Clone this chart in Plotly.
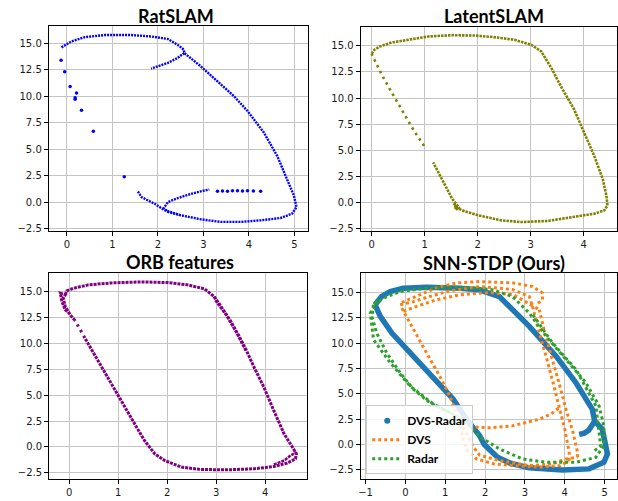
import plotly.graph_objects as go

# ---------------- RatSLAM (blue) ----------------
rat_main_x = [-0.12, 0.10, 0.39, 0.83, 1.42, 1.85, 2.22, 2.43, 2.57, 2.58, 2.94, 3.30, 3.67, 3.97, 4.33, 4.62, 4.84, 4.99, 5.04, 5.05,
              4.95, 4.70, 4.26, 3.82, 3.39, 2.95, 2.51, 2.22, 2.13, 2.22, 2.44, 2.73, 3.02, 3.13]
rat_main_y = [14.59, 15.15, 15.56, 15.75, 15.75, 15.62, 15.38, 14.84, 14.38, 14.06, 12.81, 11.41, 10.00, 8.59, 6.56, 4.38, 2.19, 0.63, -0.31, -0.47,
              -1.09, -1.50, -1.72, -1.87, -1.87, -1.63, -1.25, -0.93, -0.56, 0.00, 0.38, 0.78, 1.09, 1.19]
rat_curl_x = [2.58, 2.43, 2.22, 2.00, 1.85]
rat_curl_y = [14.06, 13.59, 13.13, 12.81, 12.59]
rat_low_x = [1.56, 1.58, 1.64, 1.93, 2.14, 2.51]
rat_low_y = [1.00, 0.85, 0.47, -0.16, -0.75, -1.25]
rat_pts_x = [-0.13, -0.05, 0.07, 0.21, 0.18, 0.18, 0.32, 0.58, 1.26, 3.31, 3.42, 3.53, 3.64, 3.75, 3.86, 3.97, 4.10, 4.26]
rat_pts_y = [13.37, 12.28, 10.90, 10.28, 9.84, 9.69, 8.66, 6.69, 2.40, 1.03, 1.05, 1.03, 1.06, 1.06, 1.05, 1.06, 1.04, 1.03]

# ---------------- LatentSLAM (olive) ----------------
lat_main_x = [0.00, 0.05, 0.16, 0.38, 0.69, 1.07, 1.50, 1.94, 2.32, 2.70, 3.01, 3.20, 3.39, 3.57, 3.82, 4.01, 4.20, 4.36, 4.43, 4.45,
              4.39, 4.20, 3.82, 3.32, 2.82, 2.45, 2.07, 1.76, 1.57, 1.62, 1.55, 1.66, 1.52, 1.44, 1.32, 1.16]
lat_main_y = [14.24, 14.62, 14.94, 15.32, 15.57, 15.89, 16.01, 15.98, 15.82, 15.57, 15.10, 14.46, 12.88, 11.13, 8.91, 6.69, 4.47, 2.25, 0.67, -0.28,
              -0.76, -1.07, -1.39, -1.77, -1.87, -1.71, -1.30, -0.85, -0.44, -0.70, -0.10, -0.55, 0.35, 1.14, 2.25, 3.84]
lat_sparse_x = [0.99, 0.82, 0.69, 0.56, 0.44, 0.31, 0.19, 0.09, 0.02, 0.00]
lat_sparse_y = [5.42, 6.69, 7.80, 8.91, 10.02, 11.13, 12.24, 13.19, 13.99, 14.24]

# ---------------- ORB features (purple) ----------------
orb_main_x = [-0.08, -0.05, 0.09, 0.39, 0.87, 1.48, 2.02, 2.42, 2.76, 2.96, 3.10, 3.30, 3.47, 3.61, 3.78, 3.98, 4.18, 4.39, 4.56, 4.64,
              4.62, 4.45, 4.18, 3.78, 3.24, 2.69, 2.29, 1.95, 1.75, 1.54, 1.34, 1.07, 0.80, 0.53, 0.32]
orb_main_y = [14.68, 15.06, 15.32, 15.64, 15.83, 15.93, 15.86, 15.64, 15.26, 14.52, 13.56, 12.12, 10.68, 9.40, 7.64, 5.72, 3.48, 1.24, -0.04, -0.68,
              -1.15, -1.57, -1.89, -2.11, -2.21, -2.18, -1.95, -1.31, -0.68, 0.60, 2.20, 4.44, 6.68, 8.92, 10.52]
orb_sparse_x = [0.32, 0.22, 0.12]
orb_sparse_y = [10.52, 11.40, 12.20]
orb_left_x = [0.12, 0.02, -0.08, -0.12, -0.08, -0.18, -0.15, -0.08, 0.00]
orb_left_y = [12.20, 12.76, 13.56, 14.36, 14.68, 14.84, 14.04, 13.24, 12.90]
orb_inner_x = [2.96, 3.00, 3.20, 3.40, 3.61]
orb_inner_y = [14.52, 14.04, 12.76, 11.16, 9.24]
orb_loop_x = [4.18, 4.39, 4.52, 4.64]
orb_loop_y = [-1.70, -1.31, -0.83, -0.51]

# ---------------- SNN-STDP (Ours) ----------------
dvsr_x = [-0.76, -0.63, -0.34, 0.12, 0.70, 1.20, 1.53, 1.86, 1.98, 2.15, 2.31, 2.64, 3.11, 3.94, 4.61, 4.98, 5.07, 5.00, 4.94,
          4.75, 4.69, 4.28, 3.78, 3.11, 2.69, 2.36, 1.86, 1.36, 0.53, -0.05, -0.38, -0.60, -0.76]
dvsr_y = [13.79, 12.64, 11.00, 9.05, 6.76, 4.47, 2.50, 0.90, 0.00, -0.60, -1.26, -1.85, -2.30, -2.50, -2.40, -1.75, -0.93, 0.40, 1.52,
          2.30, 3.49, 6.10, 8.72, 11.66, 13.30, 14.60, 15.26, 15.43, 15.52, 15.43, 15.10, 14.60, 13.79]
dvsr_hook_x = [4.75, 4.70, 4.60, 4.48, 4.36]
dvsr_hook_y = [2.30, 1.90, 1.40, 1.10, 1.00]

dvs_diag_x = [-0.09, 0.20, 0.53, 0.86, 1.11, 1.28, 1.36, 1.45, 1.53, 1.78, 2.23, 2.73, 3.39, 3.89, 4.11]
dvs_diag_y = [13.46, 11.34, 9.05, 6.76, 4.80, 3.16, 2.18, 0.54, -0.44, -1.42, -1.91, -2.08, -2.24, -2.08, -1.59]
dvs_bot2_x = [1.36, 1.55, 1.70, 1.86, 2.36, 3.11, 3.69, 4.03, 4.32]
dvs_bot2_y = [2.18, 1.00, -0.20, -1.03, -1.59, -2.08, -1.91, -1.42, -1.26]
dvs_v1_x = [4.11, 4.11, 4.00, 3.86, 3.70, 3.53, 3.36, 3.19]
dvs_v1_y = [-1.59, -0.77, 1.50, 3.81, 6.20, 8.72, 11.00, 13.63]
dvs_v2_x = [4.32, 4.32, 4.20, 4.03, 3.86, 3.69, 3.50, 3.36]
dvs_v2_y = [-1.26, -0.77, 1.30, 3.49, 6.00, 8.39, 11.00, 13.30]
dvs_t1_x = [-0.09, 0.30, 0.80, 1.30, 1.86, 2.69, 3.19, 3.44, 3.44, 3.28]
dvs_t1_y = [14.02, 14.70, 15.50, 15.95, 16.08, 15.95, 15.60, 14.95, 14.30, 13.79]
dvs_t2_x = [-0.13, 0.20, 0.60, 1.10, 1.86, 2.69, 3.11, 3.19]
dvs_t2_y = [13.79, 14.10, 14.60, 15.15, 15.59, 15.30, 14.60, 13.63]
dvs_t3_x = [-0.05, 0.28, 0.78, 1.36, 2.11, 2.70, 3.36]
dvs_t3_y = [13.14, 13.63, 14.28, 14.77, 15.00, 14.80, 13.30]
dvs_mid_x = [1.36, 1.70, 2.11, 2.69, 3.36, 3.65, 3.86]
dvs_mid_y = [2.50, 1.75, 1.65, 1.85, 2.50, 3.00, 3.65]

radar_x = [-0.80, -0.84, -0.72, -0.47, -0.13, 0.20, 0.61, 1.11, 1.53, 1.86, 2.36, 2.94, 3.53, 4.28, 4.78, 4.98, 4.98, 4.86,
           4.53, 4.03, 3.53, 3.11, 2.69, 2.20, 1.86, 1.36, 0.53, -0.13, -0.55, -0.80]
radar_y = [13.79, 12.64, 11.00, 9.05, 7.08, 5.45, 4.14, 3.16, 2.18, 0.80, -0.44, -1.42, -1.75, -1.75, -1.26, -0.11, 1.85, 3.81,
           6.10, 8.39, 10.68, 12.97, 14.60, 15.26, 15.43, 15.52, 15.43, 15.10, 14.44, 13.79]
radar2l_x = [-0.70, -0.88, -0.80, -0.38, 0.12, 0.70, 1.20]
radar2l_y = [14.20, 12.97, 10.35, 8.06, 5.77, 4.00, 3.00]
radar2r_x = [3.20, 3.69, 4.28, 4.78, 4.90, 4.75]
radar2r_y = [12.80, 10.03, 7.41, 3.81, -0.11, -0.60]

# ---------------- text ----------------
titles = ["RatSLAM", "LatentSLAM", "ORB features", "SNN-STDP (Ours)"]
legend_names = ["DVS-Radar", "DVS", "Radar"]
y_tick_vals = [-2.5, 0.0, 2.5, 5.0, 7.5, 10.0, 12.5, 15.0]

fig = go.Figure()

def line(x, y, color, width, dash, ax, name=None, show=False, group=None):
    fig.add_trace(go.Scatter(x=x, y=y, mode="lines", line=dict(color=color, width=width, dash=dash),
                             xaxis="x" + ax, yaxis="y" + ax, name=name, showlegend=show, legendgroup=group))

def pts(x, y, color, size, ax):
    fig.add_trace(go.Scatter(x=x, y=y, mode="markers", marker=dict(color=color, size=size),
                             xaxis="x" + ax, yaxis="y" + ax, showlegend=False))

BLUE = "#0000ff"
line(rat_main_x, rat_main_y, BLUE, 2.4, "2px,1px", "")
line(rat_curl_x, rat_curl_y, BLUE, 2.4, "2px,1px", "")
line(rat_low_x, rat_low_y, BLUE, 2.4, "2px,1px", "")
pts(rat_pts_x, rat_pts_y, BLUE, 3.5, "")

OLIVE = "#808000"
line(lat_main_x, lat_main_y, OLIVE, 2.6, "2.5px,1px", "2")
line(lat_sparse_x, lat_sparse_y, OLIVE, 2.6, "2.5px,4px", "2")

PURPLE = "#800080"
line(orb_main_x, orb_main_y, PURPLE, 3, "3px,1px", "3")
line(orb_sparse_x, orb_sparse_y, PURPLE, 3, "2.5px,4px", "3")
line(orb_left_x, orb_left_y, PURPLE, 3, "3px,1px", "3")
line(orb_inner_x, orb_inner_y, PURPLE, 2.5, "3px,1px", "3")
line(orb_loop_x, orb_loop_y, PURPLE, 2.5, "3px,1px", "3")

C_DR, C_DVS, C_RAD = "#1f77b4", "#ff7f0e", "#2ca02c"
line(dvsr_x, dvsr_y, C_DR, 5.5, "solid", "4")
line(dvsr_hook_x, dvsr_hook_y, C_DR, 5.5, "solid", "4")
fig.add_trace(go.Scatter(x=[None], y=[None], mode="markers", marker=dict(color=C_DR, size=6),
                         xaxis="x4", yaxis="y4", name="<b>" + legend_names[0] + "</b>", showlegend=True))
first = True
for xs, ys in [(dvs_diag_x, dvs_diag_y), (dvs_bot2_x, dvs_bot2_y), (dvs_v1_x, dvs_v1_y), (dvs_v2_x, dvs_v2_y),
               (dvs_t1_x, dvs_t1_y), (dvs_t2_x, dvs_t2_y), (dvs_t3_x, dvs_t3_y), (dvs_mid_x, dvs_mid_y)]:
    line(xs, ys, C_DVS, 3, "3px,3px", "4", "<b>" + legend_names[1] + "</b>", first, "dvs")
    first = False
first = True
for xs, ys in [(radar_x, radar_y), (radar2l_x, radar2l_y), (radar2r_x, radar2r_y)]:
    line(xs, ys, C_RAD, 3, "3px,3px", "4", "<b>" + legend_names[2] + "</b>", first, "radar")
    first = False

W, H = 618, 501

axis_common = dict(showgrid=True, gridcolor="#c4c4c4", gridwidth=1, zeroline=False,
                   showline=True, linecolor="#000000", linewidth=1, mirror=True,
                   ticks="outside", ticklen=4, tickwidth=1, tickcolor="#000000",
                   tickfont=dict(family="DejaVu Sans", size=10, color="#1a1a1a"))

panels = [
    ((47, 307), (26, 232), [-0.40, 5.29], [-2.69, 16.62], ""),
    ((360.3, 618), (26.7, 232), [-0.21, 4.63], [-2.69, 16.84], "2"),
    ((47.3, 306.7), (274.3, 481.7), [-0.41, 4.86], [-3.08, 16.82], "3"),
    ((360.3, 618), (275, 482.3), [-1.125, 5.31], [-3.44, 16.89], "4"),
]
layout = dict(width=W, height=H, margin=dict(l=0, r=0, t=0, b=0), plot_bgcolor="white", paper_bgcolor="white",
              showlegend=True,
              legend=dict(x=366 / W, y=1 - 477 / H, xanchor="left", yanchor="bottom",
                          bgcolor="rgba(255,255,255,0.85)", bordercolor="#cccccc", borderwidth=1,
                          font=dict(family="Lato", size=12, color="#000000"), tracegroupgap=0,
                          itemwidth=30))
for (xd, yd, xr, yr, s) in panels:
    layout["xaxis" + s] = dict(axis_common, domain=[xd[0] / W, min(xd[1] / W, 1.0)], range=xr, dtick=1, tick0=0,
                               anchor="y" + s)
    layout["yaxis" + s] = dict(axis_common, domain=[1 - yd[1] / H, 1 - yd[0] / H], range=yr, tickvals=y_tick_vals,
                               tickformat=".1f", anchor="x" + s)

title_pos = [(175, 16), (494, 16), (179, 264), (494, 265)]
layout["annotations"] = [dict(text="<b>" + t + "</b>", x=tx / W, y=1 - ty / H, xref="paper", yref="paper",
                              xanchor="center", yanchor="middle", showarrow=False,
                              font=dict(family="Lato", size=18, color="#000000"))
                         for t, (tx, ty) in zip(titles, title_pos)]
fig.update_layout(**layout)
fig.write_html("out.html")
